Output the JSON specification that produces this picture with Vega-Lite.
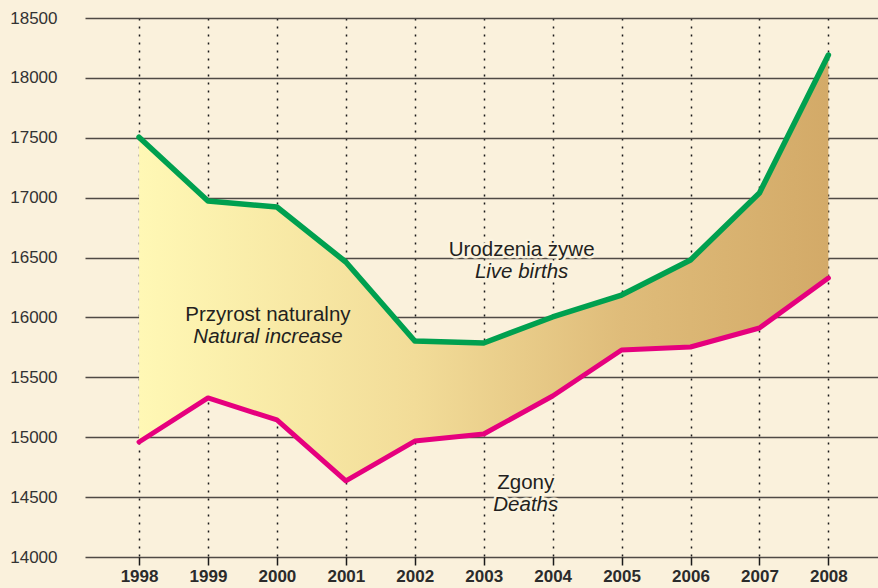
{
  "$schema": "https://vega.github.io/schema/vega-lite/v6.json",
  "autosize": "none",
  "width": 793,
  "height": 539,
  "padding": {"left": 85, "top": 18, "right": 0, "bottom": 31},
  "background": "#FAF1DC",
  "config": {
    "view": {"stroke": null},
    "font": "Liberation Sans"
  },
  "datasets": {
    "series": [
      {"year": 1998, "births": 17505, "deaths": 14960},
      {"year": 1999, "births": 16972, "deaths": 15328},
      {"year": 2000, "births": 16922, "deaths": 15144},
      {"year": 2001, "births": 16463, "deaths": 14635},
      {"year": 2002, "births": 15803, "deaths": 14968},
      {"year": 2003, "births": 15787, "deaths": 15027},
      {"year": 2004, "births": 16004, "deaths": 15344},
      {"year": 2005, "births": 16187, "deaths": 15728},
      {"year": 2006, "births": 16480, "deaths": 15753},
      {"year": 2007, "births": 17039, "deaths": 15912},
      {"year": 2008, "births": 18191, "deaths": 16329}
    ],
    "labels": [
      {"x": 1999.87, "y": 15970, "text": "Przyrost naturalny", "style": "normal", "halo": false},
      {"x": 1999.87, "y": 15787, "text": "Natural increase", "style": "italic", "halo": false},
      {"x": 2003.55, "y": 16513, "text": "Urodzenia żywe", "style": "normal", "halo": true},
      {"x": 2003.55, "y": 16329, "text": "Live births", "style": "italic", "halo": true},
      {"x": 2003.61, "y": 14568, "text": "Zgony", "style": "normal", "halo": true},
      {"x": 2003.61, "y": 14384, "text": "Deaths", "style": "italic", "halo": true}
    ]
  },
  "layer": [
    {
      "data": {"name": "series"},
      "mark": {
        "type": "area",
        "color": {
          "gradient": "linear",
          "x1": 0, "y1": 0, "x2": 1, "y2": 0,
          "stops": [
            {"offset": 0, "color": "#FFF8B5"},
            {"offset": 0.4, "color": "#F2DC98"},
            {"offset": 0.7, "color": "#DFBC7A"},
            {"offset": 1, "color": "#D3AA68"}
          ]
        }
      },
      "encoding": {
        "x": {
          "field": "year", "type": "quantitative",
          "scale": {"domain": [1997.216, 2008.72], "nice": false, "zero": false},
          "axis": {
            "values": [1998, 1999, 2000, 2001, 2002, 2003, 2004, 2005, 2006, 2007, 2008],
            "format": "d",
            "title": null,
            "domain": false,
            "grid": true,
            "gridColor": "#1a1a1a",
            "gridDash": [2, 6],
            "gridWidth": 1.5,
            "ticks": true,
            "tickColor": "#1a1a1a",
            "tickSize": 8,
            "tickWidth": 1.5,
            "labelFont": "Liberation Sans",
            "labelFontWeight": "bold",
            "labelFontSize": 17,
            "labelColor": "#2b2b2b",
            "labelPadding": 3,
            "labelFlush": false
          }
        },
        "y": {
          "field": "births", "type": "quantitative",
          "scale": {"domain": [14000, 18500], "nice": false, "zero": false},
          "axis": {
            "values": [14000, 14500, 15000, 15500, 16000, 16500, 17000, 17500, 18000, 18500],
            "format": "d",
            "title": null,
            "domain": false,
            "ticks": false,
            "grid": true,
            "gridColor": "#4f4a45",
            "gridWidth": 1.5,
            "labelFont": "Liberation Sans",
            "labelFontSize": 17,
            "labelColor": "#333333",
            "labelPadding": 28,
            "labelFlush": false
          }
        },
        "y2": {"field": "deaths"}
      }
    },
    {
      "data": {"name": "series"},
      "mark": {"type": "line", "color": "#E6007E", "strokeWidth": 5, "strokeJoin": "round", "strokeCap": "round"},
      "encoding": {
        "x": {"field": "year", "type": "quantitative"},
        "y": {"field": "deaths", "type": "quantitative"}
      }
    },
    {
      "data": {"name": "series"},
      "mark": {"type": "line", "color": "#00A04F", "strokeWidth": 5.5, "strokeJoin": "round", "strokeCap": "round"},
      "encoding": {
        "x": {"field": "year", "type": "quantitative"},
        "y": {"field": "births", "type": "quantitative"}
      }
    },
    {
      "data": {"name": "labels"},
      "transform": [{"filter": "datum.halo && datum.style == 'normal'"}],
      "mark": {"type": "text", "font": "Liberation Sans", "fontSize": 20.5, "align": "center", "baseline": "alphabetic", "stroke": "#FBF3DF", "strokeWidth": 5, "strokeJoin": "round", "fill": "#FBF3DF"},
      "encoding": {
        "x": {"field": "x", "type": "quantitative"},
        "y": {"field": "y", "type": "quantitative"},
        "text": {"field": "text"}
      }
    },
    {
      "data": {"name": "labels"},
      "transform": [{"filter": "datum.halo && datum.style == 'italic'"}],
      "mark": {"type": "text", "font": "Liberation Sans", "fontSize": 20.5, "fontStyle": "italic", "align": "center", "baseline": "alphabetic", "stroke": "#FBF3DF", "strokeWidth": 5, "strokeJoin": "round", "fill": "#FBF3DF"},
      "encoding": {
        "x": {"field": "x", "type": "quantitative"},
        "y": {"field": "y", "type": "quantitative"},
        "text": {"field": "text"}
      }
    },
    {
      "data": {"name": "labels"},
      "transform": [{"filter": "datum.style == 'normal'"}],
      "mark": {"type": "text", "font": "Liberation Sans", "fontSize": 20.5, "align": "center", "baseline": "alphabetic", "color": "#231F20"},
      "encoding": {
        "x": {"field": "x", "type": "quantitative"},
        "y": {"field": "y", "type": "quantitative"},
        "text": {"field": "text"}
      }
    },
    {
      "data": {"name": "labels"},
      "transform": [{"filter": "datum.style == 'italic'"}],
      "mark": {"type": "text", "font": "Liberation Sans", "fontSize": 20.5, "fontStyle": "italic", "align": "center", "baseline": "alphabetic", "color": "#231F20"},
      "encoding": {
        "x": {"field": "x", "type": "quantitative"},
        "y": {"field": "y", "type": "quantitative"},
        "text": {"field": "text"}
      }
    }
  ]
}
